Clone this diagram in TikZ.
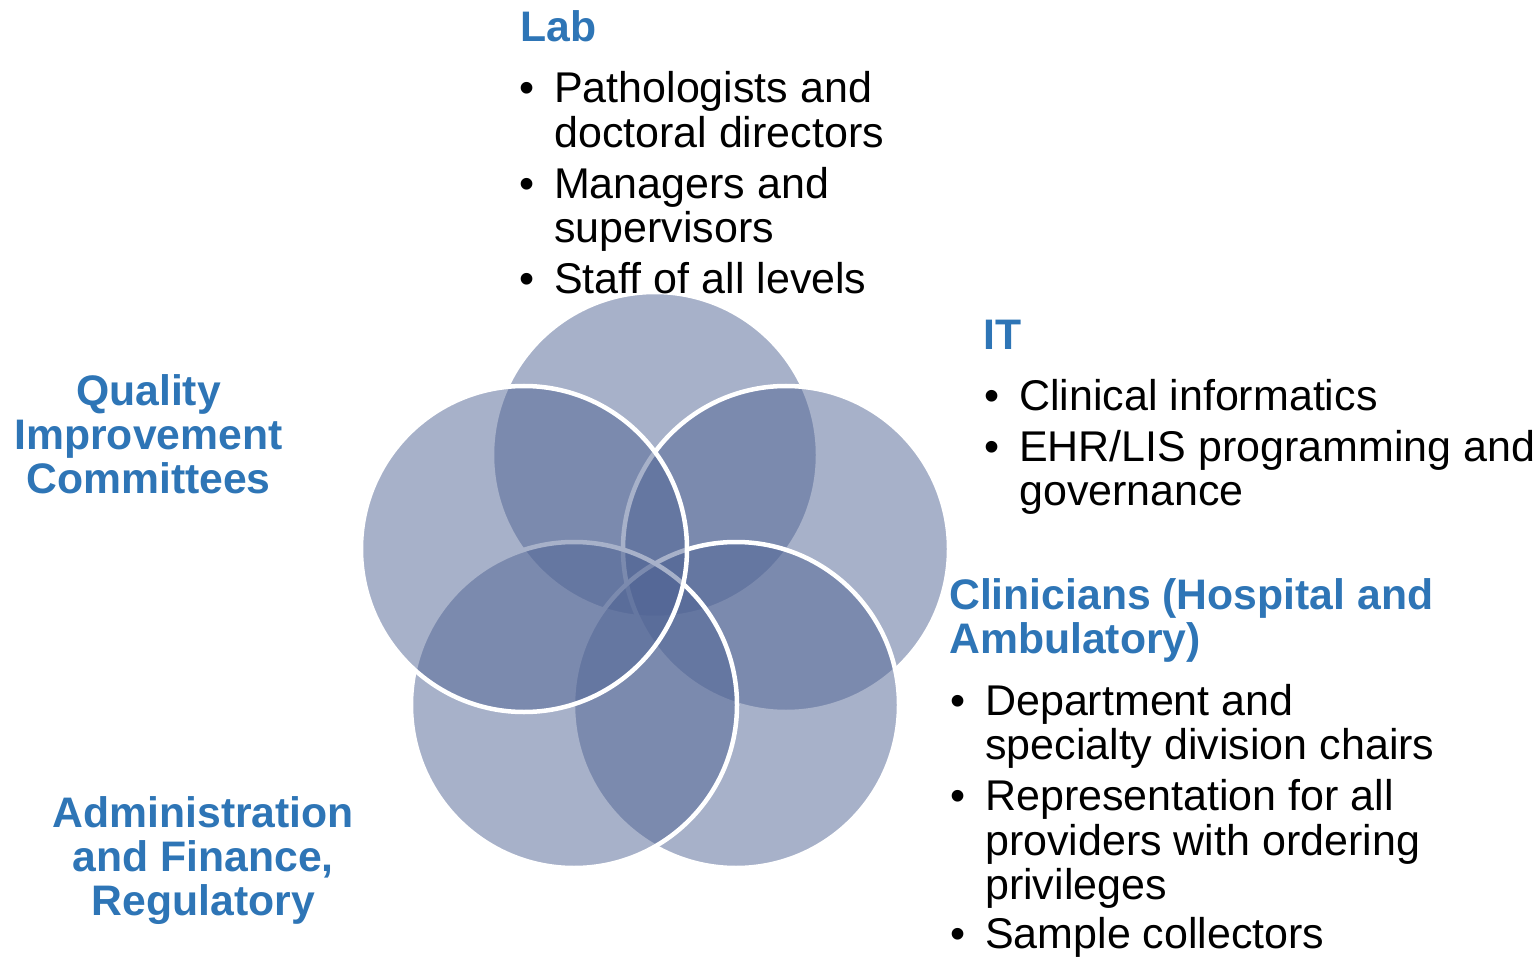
\documentclass[tikz,border=0pt]{standalone}
\usepackage{fontspec}
\setmainfont{Liberation Sans}

\definecolor{headblue}{RGB}{46,117,182}
\definecolor{petalfill}{RGB}{81,101,149}

% bullet with a fixed hanging indent
\newcommand\blt{\makebox[35pt][l]{\textbullet}}
\newcommand\hang{\hspace{35pt}}

\tikzset{
  petal/.style={fill=petalfill, fill opacity=0.5, draw=white, draw opacity=1, line width=4.5pt},
  heading/.style={inner sep=0pt, anchor=base west, text=headblue,
                  font=\fontsize{42.7}{44}\selectfont\bfseries},
  sidehead/.style={heading, anchor=base},
  bullets/.style={inner sep=0pt, anchor=base west, text=black,
                  font=\fontsize{43}{44.4}\selectfont},
}

\begin{document}
\begin{tikzpicture}[x=1pt, y=-1pt]
  \useasboundingbox (0,0) rectangle (1539,957);
  \fill[white] (0,0) rectangle (1539,957);

  % five overlapping petals, drawn in stacking order
  \path[petal] (655,455) circle[radius=163];   % top
  \path[petal] (786,549) circle[radius=163];   % right
  \path[petal] (736,705) circle[radius=163];   % bottom right
  \path[petal] (574,705) circle[radius=163];   % bottom left
  \path[petal] (524,549) circle[radius=163];   % left

  % Lab
  \node[heading] (labhead) at (520,41.7) {Lab};
  \node[bullets] (lablist) at (519,102.7) {%
    \begin{tabular}[t]{@{}l@{}}
      \blt Pathologists and\\
      \hang doctoral directors\\[6.6pt]
      \blt Managers and\\
      \hang supervisors\\[6.6pt]
      \blt Staff of all levels
    \end{tabular}};

  % IT
  \node[heading] (ithead) at (983,349.3) {IT};
  \node[bullets] (itlist) at (984,410) {%
    \begin{tabular}[t]{@{}l@{}}
      \blt Clinical informatics\\[6.6pt]
      \blt EHR/LIS programming and\\
      \hang governance
    \end{tabular}};

  % Clinicians
  \node[heading] (clinhead) at (949,609.3) {%
    \begin{tabular}[t]{@{}l@{}}
      Clinicians (Hospital and\\
      Ambulatory)
    \end{tabular}};
  \node[bullets] (clinlist) at (950,715) {%
    \begin{tabular}[t]{@{}l@{}}
      \blt Department and\\
      \hang specialty division chairs\\[6.6pt]
      \blt Representation for all\\
      \hang providers with ordering\\
      \hang privileges\\[4.6pt]
      \blt Sample collectors
    \end{tabular}};

  % Quality Improvement Committees
  \node[sidehead] (qichead) at (148.5,405) {%
    \begin{tabular}[t]{@{}c@{}}
      Quality\\ Improvement\\ Committees
    \end{tabular}};

  % Administration and Finance, Regulatory
  \node[sidehead] (adminhead) at (203.3,827.3) {%
    \begin{tabular}[t]{@{}c@{}}
      Administration\\ and Finance,\\ Regulatory
    \end{tabular}};
\end{tikzpicture}
\end{document}
